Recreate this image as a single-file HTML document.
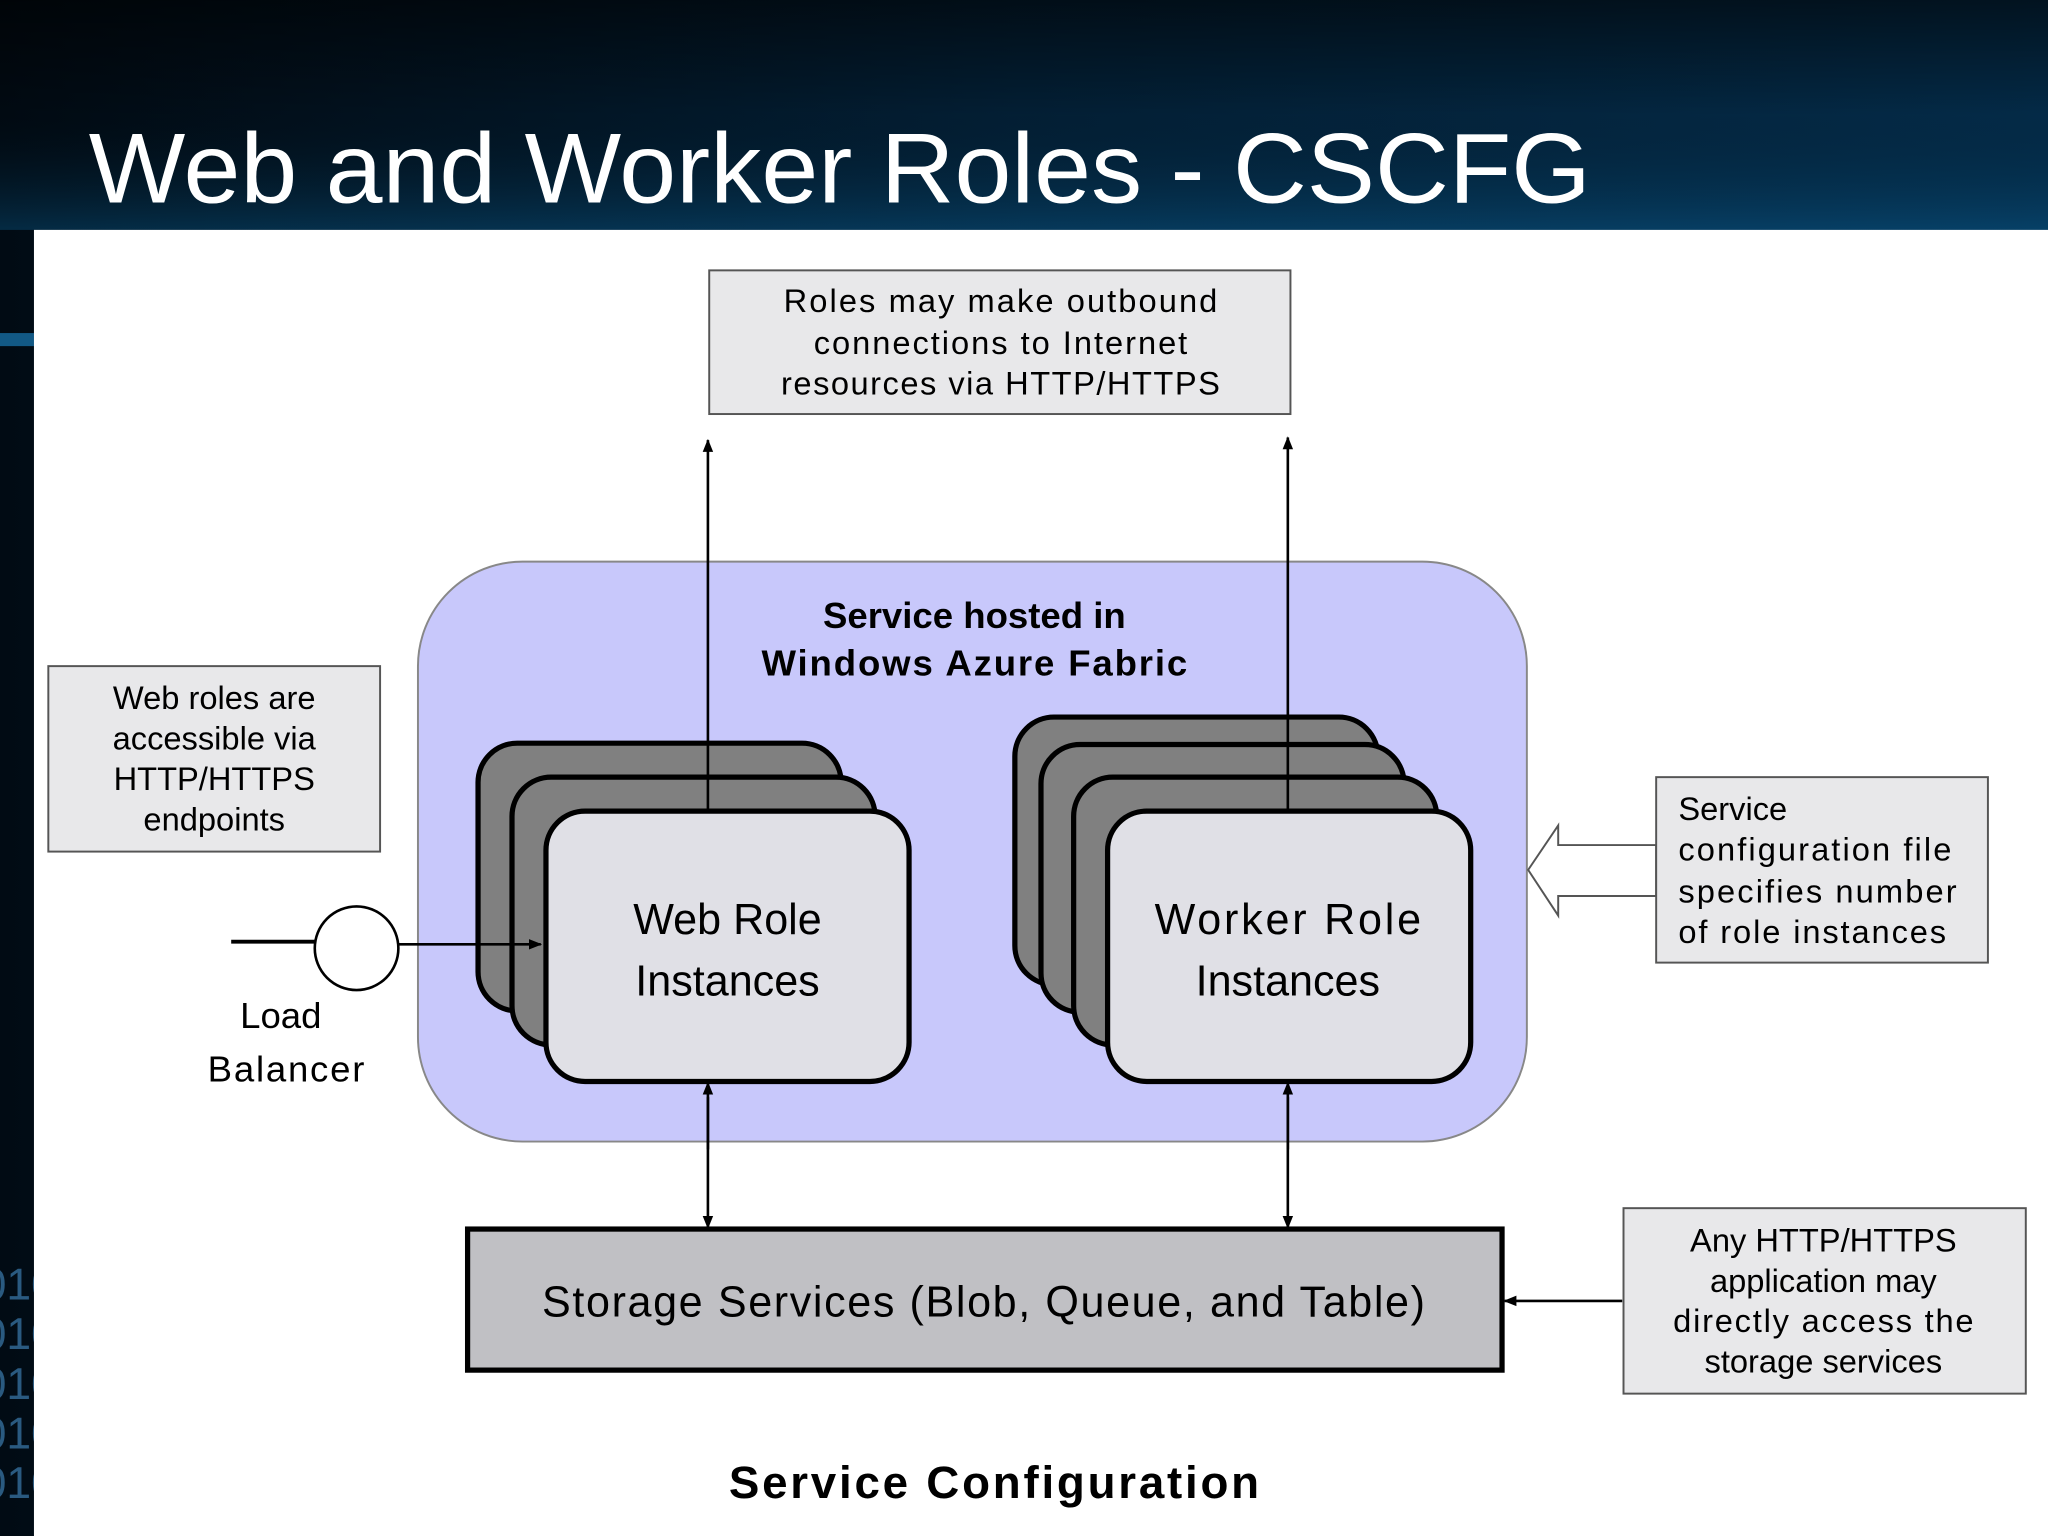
<!DOCTYPE html>
<html><head><meta charset="utf-8"><style>
html,body{margin:0;padding:0;background:#02101c;}
svg{display:block;}
text{font-family:"Liberation Sans",sans-serif;}
</style></head><body>
<svg width="2048" height="1536" viewBox="0 0 1568 1176" xmlns="http://www.w3.org/2000/svg">
<defs>
<linearGradient id="bg" x1="0" y1="0" x2="1" y2="0">
<stop offset="0" stop-color="#010b14"/><stop offset="0.5" stop-color="#03223a"/><stop offset="1" stop-color="#042f4f"/>
</linearGradient>
<linearGradient id="bgv" x1="0" y1="0" x2="0" y2="1">
<stop offset="0" stop-color="#000" stop-opacity="0.6"/><stop offset="0.5" stop-color="#000" stop-opacity="0.1"/><stop offset="1" stop-color="#0a5a8a" stop-opacity="0.4"/>
</linearGradient>
<marker id="ah" markerWidth="10" markerHeight="10" refX="9" refY="5" orient="auto" markerUnits="userSpaceOnUse"><path d="M0,1 L10,5 L0,9 z" fill="#000"/></marker>
</defs>
<rect width="1568" height="1176" fill="url(#bg)"/>
<rect width="1568" height="176" fill="url(#bgv)"/>
<rect x="0" y="255" width="26" height="10" fill="#1a7ab5" opacity="0.7"/>
<g fill="#2a5a80" font-size="34" font-family="Liberation Mono"><text x="-14" y="995">010</text><text x="-14" y="1033">010</text><text x="-14" y="1071">010</text><text x="-14" y="1109">010</text><text x="-14" y="1147">010</text></g>
<text x="68" y="155" fill="#fff" font-size="76" textLength="1150" lengthAdjust="spacingAndGlyphs">Web and Worker Roles - CSCFG</text>
<rect x="26" y="176" width="1542" height="1000" fill="#fff"/>

<rect x="543" y="207" width="445" height="110" fill="#e8e8ea" stroke="#555" stroke-width="1.5"/>
<g font-size="25" text-anchor="middle" fill="#000"><text x="766" y="239" textLength="332">Roles may make outbound</text><text x="766" y="271" textLength="286">connections to Internet</text><text x="766" y="302" textLength="336">resources via HTTP/HTTPS</text></g>

<rect x="320" y="430" width="849" height="444" rx="80" fill="#c8c8fb" stroke="#888" stroke-width="1.5"/>
<g font-size="28" font-weight="bold" text-anchor="middle"><text x="746" y="481">Service hosted in</text><text x="746" y="517" textLength="326">Windows Azure Fabric</text></g>

<rect x="37" y="510" width="254" height="142" fill="#e8e8ea" stroke="#555" stroke-width="1.5"/>
<g font-size="25" text-anchor="middle"><text x="164" y="543">Web roles are</text><text x="164" y="574">accessible via</text><text x="164" y="605">HTTP/HTTPS</text><text x="164" y="636">endpoints</text></g>

<g stroke="#000" stroke-width="4">
<rect x="366" y="569" width="278" height="205" rx="30" fill="#808080"/>
<rect x="392" y="595" width="278" height="205" rx="30" fill="#808080"/>
<rect x="418" y="621" width="278" height="207" rx="30" fill="#e0e0e6"/>
<rect x="777" y="549" width="278" height="205" rx="30" fill="#808080"/>
<rect x="797" y="570" width="278" height="205" rx="30" fill="#808080"/>
<rect x="822" y="595" width="278" height="205" rx="30" fill="#808080"/>
<rect x="848" y="621" width="278" height="207" rx="30" fill="#e0e0e6"/>
</g>
<g font-size="33" text-anchor="middle"><text x="557" y="715">Web Role</text><text x="557" y="762">Instances</text><text x="986" y="715" textLength="204">Worker Role</text><text x="986" y="762">Instances</text></g>

<g stroke="#000" stroke-width="2" fill="none">
<line x1="542" y1="621" x2="542" y2="337" marker-end="url(#ah)"/>
<line x1="986" y1="621" x2="986" y2="335" marker-end="url(#ah)"/>
<line x1="542" y1="840" x2="542" y2="940" marker-end="url(#ah)"/>
<line x1="542" y1="880" x2="542" y2="829" marker-end="url(#ah)"/>
<line x1="986" y1="840" x2="986" y2="940" marker-end="url(#ah)"/>
<line x1="986" y1="880" x2="986" y2="829" marker-end="url(#ah)"/>
<line x1="177" y1="721" x2="242" y2="721" stroke-width="3"/>
<line x1="305" y1="723" x2="414" y2="723" marker-end="url(#ah)"/>
<line x1="1242" y1="996" x2="1152" y2="996" marker-end="url(#ah)"/>
</g>
<circle cx="273" cy="726" r="32" fill="#fff" stroke="#000" stroke-width="2"/>
<g font-size="28" text-anchor="middle"><text x="215" y="787">Load</text><text x="219" y="828" textLength="120">Balancer</text></g>

<path d="M1170,666 L1193,632 L1193,647 L1268,647 L1268,686 L1193,686 L1193,701 Z" fill="#fff" stroke="#555" stroke-width="1.5"/>
<rect x="1268" y="595" width="254" height="142" fill="#e8e8ea" stroke="#555" stroke-width="1.5"/>
<g font-size="25"><text x="1285" y="628">Service</text><text x="1285" y="659" textLength="209">configuration file</text><text x="1285" y="691" textLength="213">specifies number</text><text x="1285" y="722" textLength="205">of role instances</text></g>

<rect x="358" y="941" width="792" height="108" fill="#c0c0c4" stroke="#000" stroke-width="4"/>
<text x="753" y="1008" font-size="33" text-anchor="middle" textLength="676">Storage Services (Blob, Queue, and Table)</text>

<rect x="1243" y="925" width="308" height="142" fill="#e8e8ea" stroke="#555" stroke-width="1.5"/>
<g font-size="25" text-anchor="middle"><text x="1396" y="958">Any HTTP/HTTPS</text><text x="1396" y="989">application may</text><text x="1396" y="1020" textLength="230">directly access the</text><text x="1396" y="1051">storage services</text></g>

<text x="761" y="1147" font-size="35" font-weight="bold" text-anchor="middle" textLength="406">Service Configuration</text>
</svg>
</body></html>
